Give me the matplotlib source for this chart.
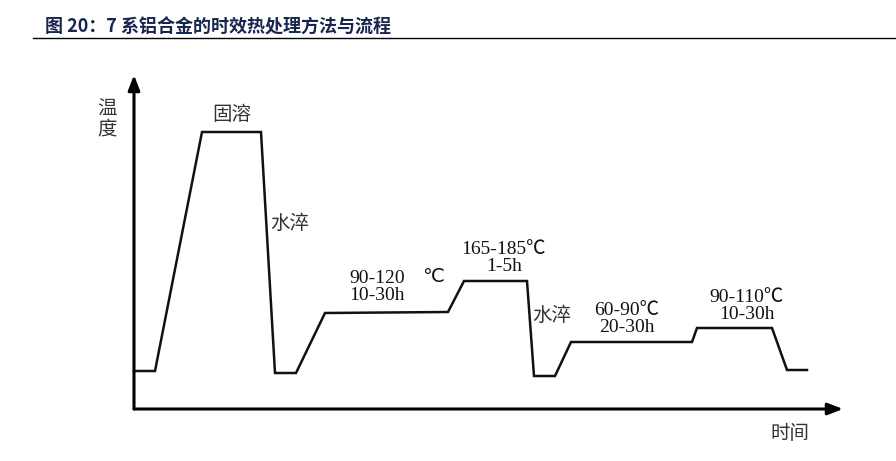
import matplotlib
matplotlib.use("Agg")
import matplotlib.pyplot as plt

plt.rcParams['font.family'] = ['Liberation Serif', 'Noto Sans CJK SC', 'DejaVu Sans']

# Schematic heat-treatment curve (arbitrary units: time → x, temperature → y)
time_pts = [0, 21, 68, 127, 141, 162, 191, 314, 330, 393, 400, 421, 437, 558, 563, 638, 653, 673]
temp_pts = [38, 38, 277, 277, 36, 36, 96, 97, 128, 128, 33, 33, 67, 67, 81, 81, 39, 39]

# Step labels: (text, time, temperature)
step_labels = [
    ("固溶", 98, 294),
    ("水淬", 156, 186),
    ("90-120\n10-30h", 243, 122),
    ("165-185℃\n1-5h", 370, 151),
    ("水淬", 418, 94),
    ("60-90℃\n20-30h", 493, 90),
    ("90-110℃\n10-30h", 613, 103),
]
title = "图 20：7 系铝合金的时效热处理方法与流程"
ylabel = "温度"
xlabel = "时间"

W, H = 896, 461
fig = plt.figure(figsize=(W / 100, H / 100), dpi=100)

# title with rule underneath
fig.text(45 / W, 1 - 27 / H, title, fontsize=13, fontweight="bold",
         color="#17264f", family=['Noto Sans CJK SC', 'DejaVu Sans'], va="center")
fig.add_artist(plt.Line2D([33 / W, 1], [1 - 38 / H] * 2, color="black", lw=1.0))

# axes whose origin sits at the corner of the drawn arrows
x0, y0 = 134, 409
ax = fig.add_axes([x0 / W, 1 - y0 / H, (843 - x0) / W, (y0 - 75) / H])
ax.set_xlim(0, 843 - x0)
ax.set_ylim(0, y0 - 75)
ax.axis("off")

ax.annotate("", xy=(0, y0 - 75), xytext=(0, 0),
            arrowprops=dict(arrowstyle="-|>,head_length=0.9,head_width=0.35",
                            color="black", lw=2.2, shrinkA=0, shrinkB=0))
ax.annotate("", xy=(843 - x0, 0), xytext=(0, 0),
            arrowprops=dict(arrowstyle="-|>,head_length=0.9,head_width=0.35",
                            color="black", lw=2.2, shrinkA=0, shrinkB=0))

ax.plot(time_pts, temp_pts, color="#111111", lw=1.8, clip_on=False,
        solid_joinstyle="miter")

cjk = ['Noto Sans CJK SC', 'DejaVu Sans']
for txt, t, T in step_labels:
    if any(ord(c) > 0x4e00 for c in txt):
        ax.text(t, T, txt, fontsize=14, ha="center", va="center",
                family=cjk, color="#333333", fontweight="light")
    else:
        ax.text(t, T, txt, fontsize=14, ha="center", va="center",
                linespacing=1.0, color="#111111")
# the degree sign of the first aging step stands apart
ax.text(299, 133, "℃", fontsize=14, ha="center", va="center",
        family=['DejaVu Sans'], color="#111111")

ax.text(-27, 300, ylabel[0], fontsize=14, ha="center", va="center", family=cjk,
        color="#333333", fontweight="light")
ax.text(-27, 280, ylabel[1], fontsize=14, ha="center", va="center", family=cjk,
        color="#333333", fontweight="light")
ax.text(656, -24, xlabel, fontsize=14, ha="center", va="center", family=cjk,
        color="#333333", fontweight="light", clip_on=False)

fig.savefig("out.png", dpi=100)
